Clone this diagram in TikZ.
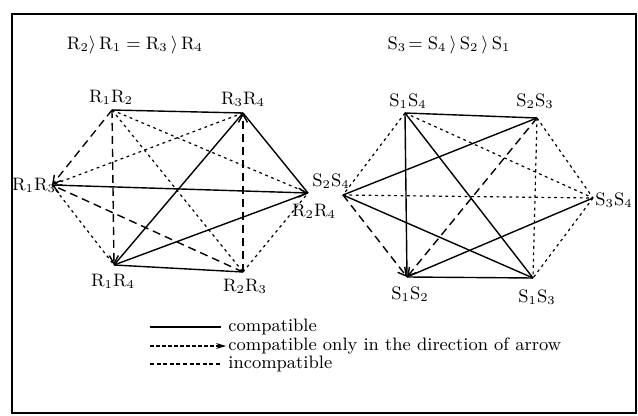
\documentclass[tikz,border=0pt]{standalone}
\usepackage{amsmath,amssymb}
\usepackage{tikz}
\usetikzlibrary{arrows.meta,positioning}

\begin{document}
\begin{tikzpicture}[x=0.5pt,y=-0.5pt,
  lab/.style={inner sep=0pt, font=\small},
  ok/.style={line width=0.7pt},
  dir/.style={line width=0.7pt, dash pattern=on 4pt off 2.5pt, -{Straight Barb[length=4pt,width=4.5pt]}},
  bad/.style={line width=0.6pt, dash pattern=on 1.4pt off 1.8pt},
  txt/.style={font=\small, anchor=west, inner sep=0pt}
]
\useasboundingbox (0,0) rectangle (638,416);
\draw[line width=1pt] (12,14) rectangle (636,413);

% titles
\node[lab] (rtitle) at (135,45) {$\mathrm{R}_2\rangle\,\mathrm{R}_1=\mathrm{R}_3\,\rangle\,\mathrm{R}_4$};
\node[lab] (stitle) at (449,45) {$\mathrm{S}_3\!=\mathrm{S}_4\,\rangle\,\mathrm{S}_2\,\rangle\,\mathrm{S}_1$};

% R graph
\coordinate (r12) at (112,110);
\coordinate (r34) at (243,113);
\coordinate (r13) at (52,185);
\coordinate (r24) at (308,193);
\coordinate (r14) at (114,265);
\coordinate (r23) at (243,272);
\node[lab] (lr12) at (111,97) {$\mathrm{R}_1\mathrm{R}_2$};
\node[lab] (lr34) at (243,99) {$\mathrm{R}_3\mathrm{R}_4$};
\node[lab] (lr13) at (34,185) {$\mathrm{R}_1\mathrm{R}_3$};
\node[lab] (lr24) at (314,211) {$\mathrm{R}_2\mathrm{R}_4$};
\node[lab] (lr14) at (113,281) {$\mathrm{R}_1\mathrm{R}_4$};
\node[lab] (lr23) at (245,286) {$\mathrm{R}_2\mathrm{R}_3$};

\draw[ok] (r12) -- (r34);
\draw[ok] (r14) -- (r34);
\draw[ok] (r24) -- (r34);
\draw[ok, -{Straight Barb[length=4pt,width=4.5pt]}] (r13) -- (r24);
\draw[ok] (r14) -- (r23);
\draw[ok] (r14) -- (r24);
\draw[dir] (r12) -- (r13);
\draw[dir] (r12) -- (r14);
\draw[dir] (r23) -- (r13);
\draw[dir] (r23) -- (r34);
\draw[bad] (r12) -- (r24);
\draw[bad] (r12) -- (r23);
\draw[bad] (r34) -- (r13);
\draw[bad] (r13) -- (r14);
\draw[bad] (r23) -- (r24);

% S graph
\coordinate (s14) at (405,113);
\coordinate (s23) at (537,118);
\coordinate (s24) at (343,195);
\coordinate (s34) at (593,198);
\coordinate (s12) at (407,277);
\coordinate (s13) at (533,278);
\node[lab] (ls14) at (408,101) {$\mathrm{S}_1\mathrm{S}_4$};
\node[lab] (ls23) at (535,101) {$\mathrm{S}_2\mathrm{S}_3$};
\node[lab] (ls24) at (331,181) {$\mathrm{S}_2\mathrm{S}_4$};
\node[lab] (ls34) at (614,200) {$\mathrm{S}_3\mathrm{S}_4$};
\node[lab] (ls12) at (410,294) {$\mathrm{S}_1\mathrm{S}_2$};
\node[lab] (ls13) at (537,297) {$\mathrm{S}_1\mathrm{S}_3$};

\draw[ok] (s14) -- (s23);
\draw[ok] (s14) -- (s12);
\draw[ok] (s14) -- (s13);
\draw[ok] (s23) -- (s24);
\draw[ok] (s24) -- (s13);
\draw[ok] (s34) -- (s12);
\draw[ok] (s12) -- (s13);
\draw[dir] (s23) -- (s12);
\draw[dir] (s24) -- (s12);
\draw[bad] (s14) -- (s24);
\draw[bad] (s14) -- (s34);
\draw[bad] (s23) -- (s13);
\draw[bad] (s23) -- (s34);
\draw[bad] (s24) -- (s34);
\draw[bad] (s34) -- (s13);

% legend
\coordinate (k1a) at (150,327); \coordinate (k1b) at (221,327);
\coordinate (k2a) at (150,346); \coordinate (k2b) at (226,346);
\coordinate (k3a) at (150,364); \coordinate (k3b) at (222,364);
\draw[ok] (k1a) -- (k1b);
\draw[line width=0.6pt, dash pattern=on 2pt off 1pt, -{Stealth[length=5pt,width=3pt]}] (k2a) -- (k2b);
\draw[line width=0.6pt, dash pattern=on 2pt off 1.3pt] (k3a) -- (k3b);
\node[txt] (t1) at (228,327) {compatible};
\node[txt] (t2) at (228,346) {compatible only in the direction of arrow};
\node[txt] (t3) at (228,364) {incompatible};
\end{tikzpicture}
\end{document}
